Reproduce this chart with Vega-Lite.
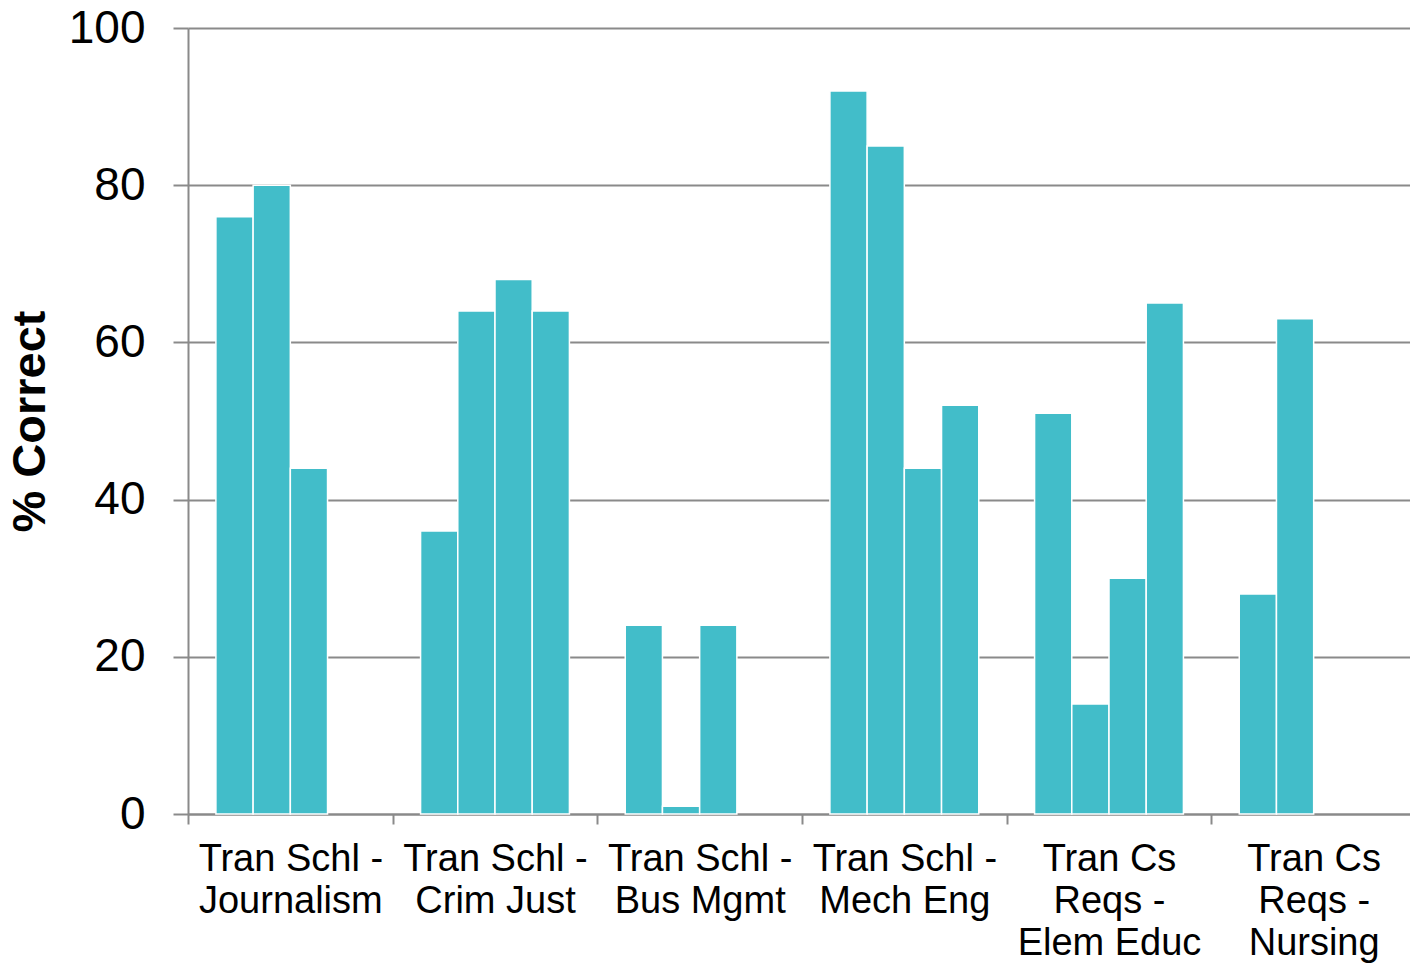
{
  "$schema": "https://vega.github.io/schema/vega-lite/v6.json",
  "autosize": "none",
  "width": 1228,
  "height": 786,
  "padding": {"left": 188, "top": 28, "right": 0, "bottom": 149},
  "background": "white",
  "config": {
    "view": {"stroke": null},
    "font": "Liberation Sans",
    "axis": {"labelFont": "Liberation Sans", "titleFont": "Liberation Sans", "labelColor": "black", "titleColor": "black"}
  },
  "data": {
    "values": [
      {"g": "Tran Schl -|Journalism", "s": 1, "v": 76},
      {"g": "Tran Schl -|Journalism", "s": 2, "v": 80},
      {"g": "Tran Schl -|Journalism", "s": 3, "v": 44},
      {"g": "Tran Schl -|Crim Just", "s": 1, "v": 36},
      {"g": "Tran Schl -|Crim Just", "s": 2, "v": 64},
      {"g": "Tran Schl -|Crim Just", "s": 3, "v": 68},
      {"g": "Tran Schl -|Crim Just", "s": 4, "v": 64},
      {"g": "Tran Schl -|Bus Mgmt", "s": 1, "v": 24},
      {"g": "Tran Schl -|Bus Mgmt", "s": 2, "v": 1},
      {"g": "Tran Schl -|Bus Mgmt", "s": 3, "v": 24},
      {"g": "Tran Schl -|Mech Eng", "s": 1, "v": 92},
      {"g": "Tran Schl -|Mech Eng", "s": 2, "v": 85},
      {"g": "Tran Schl -|Mech Eng", "s": 3, "v": 44},
      {"g": "Tran Schl -|Mech Eng", "s": 4, "v": 52},
      {"g": "Tran Cs|Reqs -|Elem Educ", "s": 1, "v": 51},
      {"g": "Tran Cs|Reqs -|Elem Educ", "s": 2, "v": 14},
      {"g": "Tran Cs|Reqs -|Elem Educ", "s": 3, "v": 30},
      {"g": "Tran Cs|Reqs -|Elem Educ", "s": 4, "v": 65},
      {"g": "Tran Cs|Reqs -|Nursing", "s": 1, "v": 28},
      {"g": "Tran Cs|Reqs -|Nursing", "s": 2, "v": 63}
    ]
  },
  "mark": {"type": "bar", "color": "#42BDC9", "stroke": "white", "strokeWidth": 1.5},
  "encoding": {
    "x": {
      "field": "g",
      "type": "nominal",
      "sort": null,
      "scale": {"paddingInner": 0, "paddingOuter": 0},
      "axis": {
        "title": null,
        "labelAngle": 0,
        "labelExpr": "split(datum.label, '|')",
        "labelFontSize": 38,
        "labelLineHeight": 42,
        "labelPadding": 16,
        "labelBaseline": "top",
        "tickBand": "extent",
        "tickSize": 10,
        "tickColor": "#8a8a8a",
        "tickWidth": 2,
        "domainColor": "#8a8a8a",
        "domainWidth": 2,
        "grid": false,
        "labelLimit": 400
      }
    },
    "xOffset": {
      "field": "s",
      "type": "ordinal",
      "scale": {"domain": [1, 2, 3, 4], "paddingInner": 0, "paddingOuter": 0.75}
    },
    "y": {
      "field": "v",
      "type": "quantitative",
      "scale": {"domain": [0, 100], "nice": false},
      "axis": {
        "title": "% Correct",
        "titleFontSize": 47,
        "titleFontWeight": "bold",
        "titlePadding": 14,
        "values": [0, 20, 40, 60, 80, 100],
        "labelFontSize": 46,
        "labelPadding": 28,
        "tickSize": 15,
        "tickColor": "#8a8a8a",
        "tickWidth": 2,
        "domainColor": "#8a8a8a",
        "domainWidth": 2,
        "grid": true,
        "gridColor": "#8a8a8a",
        "gridWidth": 2
      }
    }
  }
}
